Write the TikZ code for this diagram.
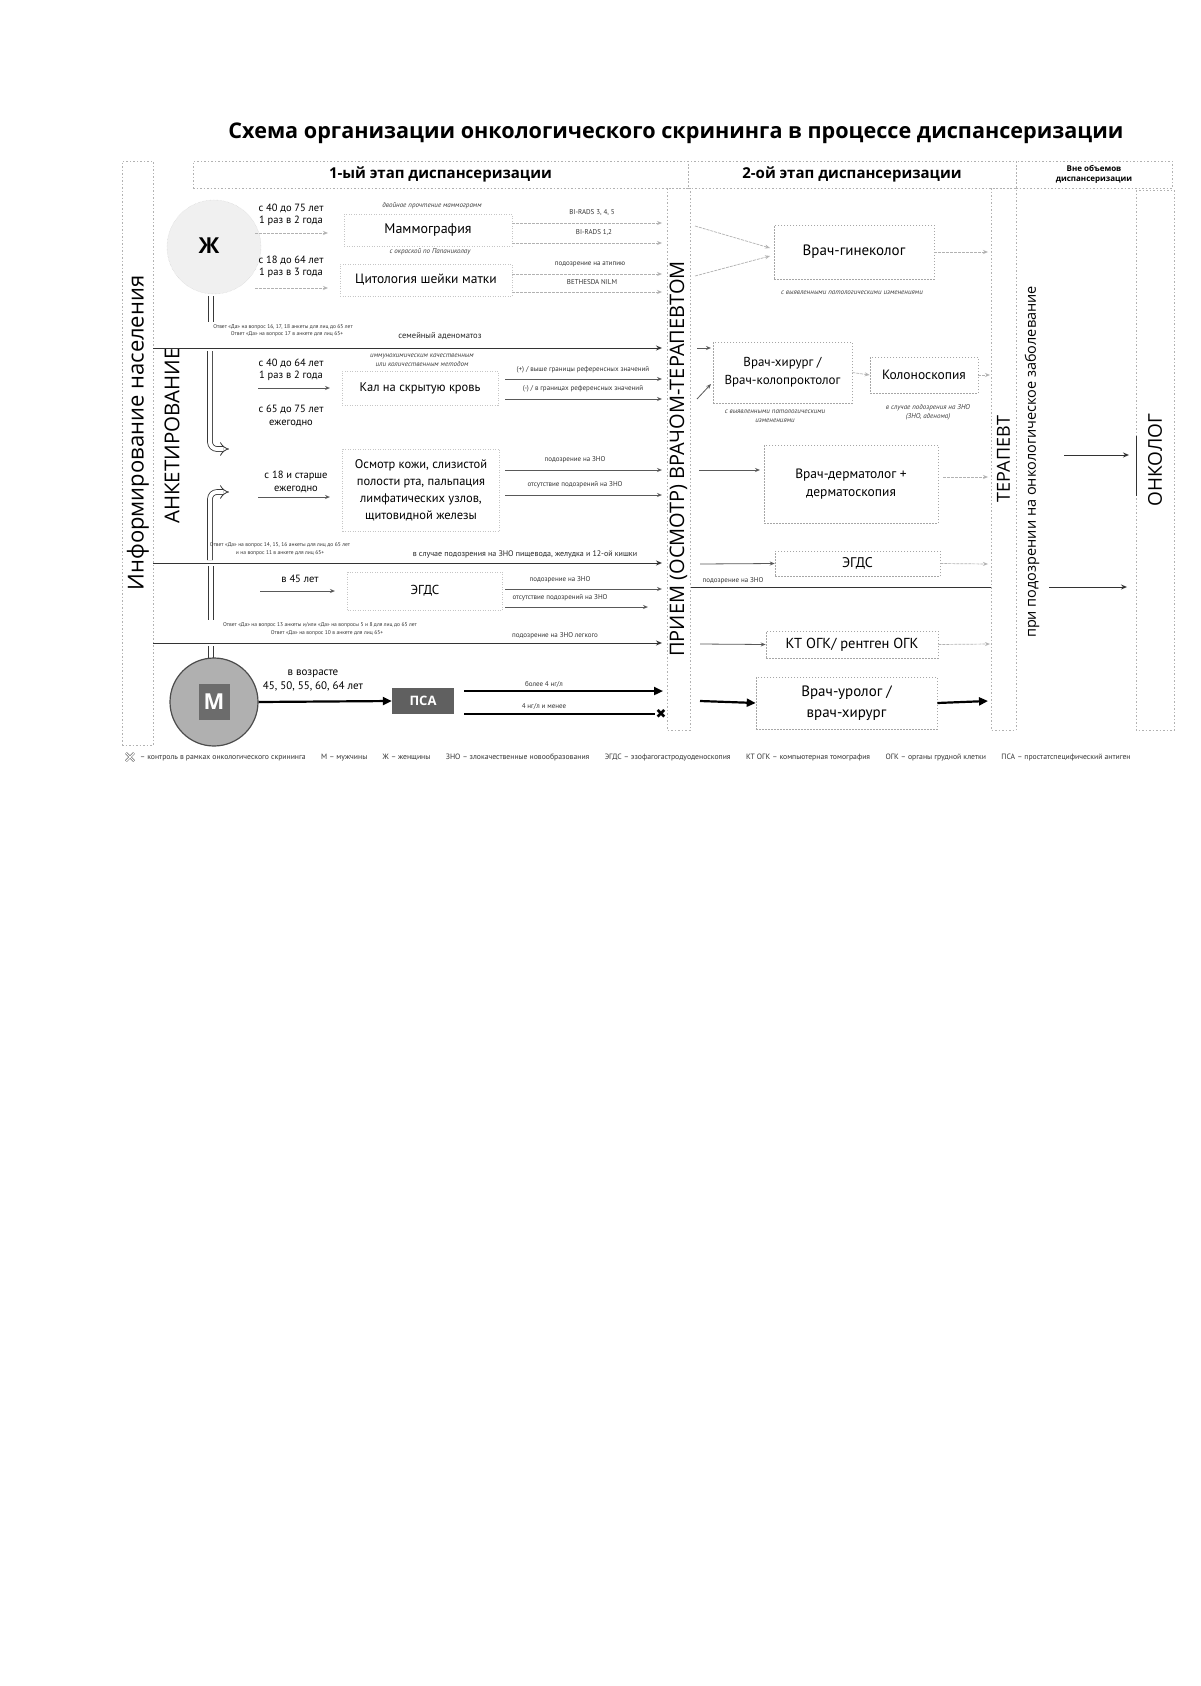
\documentclass[tikz,border=0pt]{standalone}
\usepackage{fontspec}
\setmainfont{PT Sans}
\newfontfamily\os{Open Sans}
\newfontfamily\dv{DejaVu Sans}
\usetikzlibrary{arrows.meta}
\newcommand\fsz[2]{\fontsize{#1pt}{#2pt}\selectfont}
\begin{document}
\begin{tikzpicture}[x=1pt,y=-1pt,
 txt/.style={inner sep=0pt, align=center},
 vtxt/.style={inner sep=0pt, rotate=90},
 tinytxt/.style={inner sep=0pt, align=center, font=\fsz{5.5}{7}, text=black!80},
 smalltxt/.style={inner sep=0pt, align=center, font=\fsz{7}{8.5}, text=black!80},
 tinyit/.style={inner sep=0pt, align=center, font=\itshape\fsz{7}{9}, text=black!75},
 faintbox/.style={draw=gray!45, dash pattern=on 1pt off 1.5pt, line width=0.5pt, inner sep=0pt, align=center},
 dbox/.style={draw=gray!70, dash pattern=on 1.5pt off 1.5pt, line width=0.6pt, inner sep=0pt, align=center},
 colbox/.style={draw=gray!60, dash pattern=on 1.5pt off 2pt, line width=0.6pt, inner sep=0pt},
 flow/.style={draw=black!80, line width=1pt, -{Stealth[open, length=6pt, width=5pt]}},
 sflow/.style={draw=black!65, line width=0.8pt, -{Stealth[open, length=5pt, width=4pt]}},
 fflow/.style={draw=gray!60, line width=0.7pt, dash pattern=on 3pt off 1pt, -{Stealth[open, length=5pt, width=4pt]}},
 boldarrow/.style={draw=black, line width=2.2pt, -{Triangle[length=9pt, width=8pt]}},
 boldline/.style={draw=black, line width=2.2pt},
 hollow/.style={draw=gray!45!black, double=white, double distance=4pt, line width=0.8pt},
]
\useasboundingbox (0,0) rectangle (1200,1686);
\fill[white] (0,0) rectangle (1200,1686);

% title
\node[txt, font=\os\bfseries\fsz{21.6}{24}] (title) at (676,133) {Схема организации онкологического скрининга в процессе диспансеризации};

% header
\node[colbox, minimum width=495pt, minimum height=27pt, font=\os\bfseries\fsz{15}{18}] (h1) at (440.5,174.5) {1-ый этап диспансеризации};
\node[colbox, minimum width=328pt, minimum height=27pt, font=\os\bfseries\fsz{15}{18}] (h2) at (852,174.5) {2-ой этап диспансеризации};
\node[colbox, minimum width=156pt, minimum height=27pt, align=center, font=\os\bfseries\fsz{8}{10}] (h3) at (1094,174.5) {Вне объемов\\диспансеризации};

% columns
\node[colbox, minimum width=31pt, minimum height=584pt] (inf) at (137.5,453) {};
\node[vtxt, font=\os\fsz{22}{24}] (inft) at (138,433) {Информирование населения};
\node[vtxt, font=\os\fsz{20.5}{22}] (ank) at (172,436) {АНКЕТИРОВАНИЕ};
\node[colbox, rotate=90, minimum width=542pt, minimum height=23pt, font=\os\fsz{20}{22}] (pri) at (678.5,459) {ПРИЕМ (ОСМОТР) ВРАЧОМ-ТЕРАПЕВТОМ};
\node[colbox, rotate=90, minimum width=542pt, minimum height=25pt, font=\os\fsz{18}{20}] (ter) at (1003.5,459) {ТЕРАПЕВТ};
\node[vtxt, font=\os\fsz{14.5}{16}] (podz) at (1032,462) {при подозрении на онкологическое заболевание};
\node[colbox, rotate=90, minimum width=540pt, minimum height=38pt, font=\os\fsz{19}{21}] (onk) at (1155,460) {ОНКОЛОГ};
\draw[black!80, line width=1pt] (1136,436) -- (1136,496);
\coordinate (oa) at (1064,455); \coordinate (ob) at (1129,455);
\draw[flow] (oa) -- (ob);

% ===== women =====
\node[circle, minimum size=94pt, fill=gray!12, draw=gray!40, densely dotted, inner sep=0pt] (zhc) at (214,247) {};
\node[txt, font=\os\bfseries\fsz{22}{24}] (zh) at (209,246) {Ж};
\node[txt, font=\fsz{10.5}{12.5}] (ag1) at (291,215) {с 40 до 75 лет\\1 раз в 2 года};
\node[txt, font=\fsz{10.5}{12.5}] (ag2) at (291,267) {с 18 до 64 лет\\1 раз в 3 года};
\coordinate (a1a) at (255,233); \coordinate (a1b) at (328,233);
\coordinate (a2a) at (255,288); \coordinate (a2b) at (328,288);
\draw[fflow] (a1a) -- (a1b);
\draw[fflow] (a2a) -- (a2b);

\node[tinyit] (mamt) at (432,206) {двойное прочтение маммограмм};
\node[faintbox, minimum width=168pt, minimum height=32pt, font=\fsz{14}{16}] (mam) at (428,230) {Маммография};
\node[tinyit] (papt) at (430,252) {с окраской по Папаниколау};
\node[faintbox, minimum width=172pt, minimum height=32pt, font=\fsz{13.5}{16}] (cyt) at (426,280) {Цитология шейки матки};

\node[smalltxt] (br1) at (592,213) {BI-RADS 3, 4, 5};
\node[smalltxt] (br2) at (594,233) {BI-RADS 1,2};
\node[smalltxt] (at1) at (590,264) {подозрение на атипию};
\node[smalltxt] (nilm) at (592,282) {BETHESDA NILM};
\coordinate (b1a) at (512,223); \coordinate (b1b) at (662,223);
\coordinate (b2a) at (512,243); \coordinate (b2b) at (662,243);
\coordinate (b3a) at (512,274); \coordinate (b3b) at (662,274);
\coordinate (b4a) at (512,292); \coordinate (b4b) at (662,292);
\draw[fflow] (b1a) -- (b1b);
\draw[fflow] (b2a) -- (b2b);
\draw[fflow] (b3a) -- (b3b);
\draw[fflow] (b4a) -- (b4b);

\node[dbox, minimum width=160pt, minimum height=54pt, font=\fsz{15}{18}] (gyn) at (854,252) {Врач-гинеколог};
\node[tinyit] (gynn) at (852,293) {с выявленными патологическими изменениями};
\coordinate (g1) at (695,226); \coordinate (gw1) at (770,248);
\coordinate (g2) at (695,276); \coordinate (gw2) at (770,256);
\draw[fflow] (g1) -- (gw1);
\draw[fflow] (g2) -- (gw2);
\coordinate (go) at (988,252);
\draw[fflow] (gyn.east) -- (go);

% ===== line 1 =====
\node[tinytxt] (q1a) at (283,327) {Ответ «Да» на вопрос 16, 17, 18 анкеты для лиц до 65 лет};
\node[tinytxt] (q1b) at (287,334) {Ответ «Да» на вопрос 17 в анкете для лиц 65+};
\node[txt, font=\fsz{8.5}{10}, text=black!85] (fam) at (440,336) {семейный аденоматоз};
\coordinate (l1a) at (153,348); \coordinate (l1b) at (662,348);
\draw[flow] (l1a) -- (l1b);
\draw[hollow] (211,296) -- (211,322);
\draw[hollow, rounded corners=7pt, -Implies] (210,351) -- (210,449) -- (229,449);
\draw[hollow, rounded corners=7pt, -Implies] (210,560) -- (210,492) -- (229,492);

% ===== fecal =====
\node[tinyit] (imt) at (422,360) {иммунохимическим качественным\\или количественным методом};
\node[faintbox, minimum width=156pt, minimum height=34pt, font=\fsz{12.5}{15}] (fec) at (420,388) {Кал на скрытую кровь};
\node[txt, font=\fsz{10.5}{12.5}] (ag3) at (291,370) {с 40 до 64 лет\\1 раз в 2 года};
\coordinate (a3a) at (258,388); \coordinate (a3b) at (330,388);
\draw[sflow] (a3a) -- (a3b);
\node[txt, font=\fsz{10.5}{12.5}] (ag4) at (291,416) {с 65 до 75 лет\\ежегодно};
\node[smalltxt] (pl) at (583,370) {(+) / выше границы референсных значений};
\node[smalltxt] (mn) at (583,389) {(-) / в границах референсных значений};
\coordinate (c1a) at (505,379); \coordinate (c1b) at (662,379);
\coordinate (c2a) at (505,399); \coordinate (c2b) at (662,399);
\draw[sflow] (c1a) -- (c1b);
\draw[sflow] (c2a) -- (c2b);

\node[dbox, minimum width=139pt, minimum height=61pt, font=\fsz{13}{18}] (sur) at (782.5,372.5) {Врач-хирург /\\Врач-колопроктолог};
\coordinate (s1a) at (697,348); \coordinate (s1b) at (711,348);
\coordinate (s2a) at (697,399); \coordinate (s2b) at (711,384);
\draw[sflow] (s1a) -- (s1b);
\draw[sflow] (s2a) -- (s2b);
\node[tinyit] (surn) at (775,416) {с выявленными патологическими\\изменениями};
\node[dbox, minimum width=108pt, minimum height=36pt, font=\fsz{13.5}{16}] (col) at (924,375) {Колоноскопия};
\draw[fflow] (sur.east) -- (col.west);
\node[tinyit] (coln) at (928,412) {в случае подозрения на ЗНО\\(ЗНО, аденома)};
\coordinate (co) at (990,375);
\draw[fflow] (col.east) -- (co);

% ===== skin =====
\node[txt, font=\fsz{10.5}{12.5}] (ag5) at (296,482) {с 18 и старше\\ежегодно};
\coordinate (a5a) at (258,497); \coordinate (a5b) at (330,497);
\draw[sflow] (a5a) -- (a5b);
\node[faintbox, minimum width=157pt, minimum height=82pt, font=\fsz{12.5}{17}] (osm) at (421,490) {Осмотр кожи, слизистой\\полости рта, пальпация\\лимфатических узлов,\\щитовидной железы};
\node[smalltxt] (sz) at (575,460) {подозрение на ЗНО};
\node[smalltxt] (nsz) at (575,485) {отсутствие подозрений на ЗНО};
\coordinate (k1a) at (505,470); \coordinate (k1b) at (662,470);
\coordinate (k2a) at (505,495); \coordinate (k2b) at (662,495);
\draw[sflow] (k1a) -- (k1b);
\draw[sflow] (k2a) -- (k2b);
\node[dbox, minimum width=174pt, minimum height=78pt, font=\fsz{13.5}{18}] (derm) at (851,484) {Врач-дерматолог +\\дерматоскопия};
\coordinate (d0) at (699,470); \coordinate (d1) at (760,470);
\draw[sflow] (d0) -- (d1);
\coordinate (d2) at (943,477); \coordinate (d3) at (988,477);
\draw[fflow] (d2) -- (d3);

% ===== line 2 =====
\node[tinytxt] (q2a) at (280,545) {Ответ «Да» на вопрос 14, 15, 16 анкеты для лиц до 65 лет};
\node[tinytxt] (q2b) at (280,553) {и на вопрос 11 в анкете для лиц 65+};
\node[txt, font=\fsz{8}{10}, text=black!85] (egdl) at (525,554) {в случае подозрения на ЗНО пищевода, желудка и 12-ой кишки};
\coordinate (l2a) at (153,563); \coordinate (l2b) at (662,563);
\draw[flow] (l2a) -- (l2b);

% ===== EGDS =====
\draw[hollow] (211,566) -- (211,620);
\node[txt, font=\fsz{10.5}{12.5}] (ag6) at (300,579) {в 45 лет};
\coordinate (a6a) at (260,591); \coordinate (a6b) at (335,591);
\draw[sflow] (a6a) -- (a6b);
\node[faintbox, minimum width=155pt, minimum height=38pt, font=\fsz{13}{15}] (egd1) at (425,591) {ЭГДС};
\node[smalltxt] (e1) at (560,580) {подозрение на ЗНО};
\node[smalltxt] (e2) at (560,598) {отсутствие подозрений на ЗНО};
\coordinate (e1a) at (505,589); \coordinate (e1b) at (662,589);
\coordinate (e2a) at (505,607); \coordinate (e2b) at (648,607);
\draw[sflow] (e1a) -- (e1b);
\draw[sflow] (e2a) -- (e2b);
\node[dbox, minimum width=165pt, minimum height=25pt, font=\fsz{14}{16}] (egd2) at (857.5,563.5) {ЭГДС};
\coordinate (eg0) at (700,564);
\draw[sflow] (eg0) -- (egd2.west);
\coordinate (eg3) at (988,564);
\draw[fflow] (egd2.east) -- (eg3);
\node[smalltxt] (e3) at (733,581) {подозрение на ЗНО};
\coordinate (e3a) at (691,587); \coordinate (e3b) at (991,587);
\draw[black!80, line width=1pt] (e3a) -- (e3b);
\coordinate (e4a) at (1049,587); \coordinate (e4b) at (1127,587);
\draw[flow] (e4a) -- (e4b);

% ===== line 3 (lung) =====
\node[tinytxt] (q3a) at (320,625) {Ответ «Да» на вопрос 13 анкеты и/или «Да» на вопросы 5 и 8 для лиц до 65 лет};
\node[tinytxt] (q3b) at (327,633) {Ответ «Да» на вопрос 10 в анкете для лиц 65+};
\node[smalltxt] (lng) at (555,636) {подозрение на ЗНО легкого};
\coordinate (l3a) at (153,643); \coordinate (l3b) at (662,643);
\draw[flow] (l3a) -- (l3b);
\node[dbox, minimum width=172pt, minimum height=27pt, font=\fsz{14.5}{17}] (kt) at (852,644.5) {КТ ОГК/ рентген ОГК};
\coordinate (kt0) at (700,644);
\draw[sflow] (kt0) -- (kt.west);
\coordinate (kt3) at (990,644);
\draw[fflow] (kt.east) -- (kt3);
\draw[hollow] (211,646) -- (211,658);

% ===== men =====
\node[circle, minimum size=88pt, fill=gray!62, draw=black!70, line width=1.2pt, inner sep=0pt] (mc) at (214,702) {};
\node[minimum width=31pt, minimum height=36pt, fill=gray!85!black, inner sep=0pt, text=white, font=\os\bfseries\fsz{22}{24}] (mb) at (214,702) {М};
\node[txt, font=\fsz{11}{14}] (ag7) at (313,680) {в возрасте\\45, 50, 55, 60, 64 лет};
\node[minimum width=62pt, minimum height=26pt, fill=gray!75!black, inner sep=0pt, text=white, font=\os\bfseries\fsz{13}{15}] (psa) at (423,701) {ПСА};
\draw[boldarrow] (mc.east) -- (psa.west);
\node[smalltxt] (p1) at (544,684) {более 4 нг/л};
\node[smalltxt] (p2) at (544,706) {4 нг/л и менее};
\coordinate (p1a) at (464,691); \coordinate (p1b) at (663,691);
\coordinate (p2a) at (464,714); \coordinate (p2b) at (655,714);
\draw[boldarrow] (p1a) -- (p1b);
\draw[boldline] (p2a) -- (p2b);
\node[inner sep=0pt, font=\dv\fsz{13}{14}] (xm) at (661,714) {✖};
\node[dbox, minimum width=181pt, minimum height=52pt, font=\fsz{15}{21}] (uro) at (846.5,703) {Врач-уролог /\\врач-хирург};
\coordinate (u0) at (700,701);
\draw[boldarrow] (u0) -- (uro.west);
\coordinate (u3) at (988,701);
\draw[boldarrow] (uro.east) -- (u3);

% ===== legend =====
\draw[black!80, double=white, double distance=1.4pt, line width=0.5pt] (126,753) -- (134,761) (126,761) -- (134,753);
\node[anchor=west, inner sep=0pt, font=\fsz{7.7}{9}, text=black!80] (leg) at (140,757) {– контроль в рамках онкологического скрининга\quad\quad М – мужчины\quad\quad Ж – женщины\quad\quad ЗНО – злокачественные новообразования\quad\quad ЭГДС – эзофагогастродуоденоскопия\quad\quad КТ ОГК – компьютерная томография\quad\quad ОГК – органы грудной клетки\quad\quad ПСА – простатспецифический антиген};
\end{tikzpicture}
\end{document}
